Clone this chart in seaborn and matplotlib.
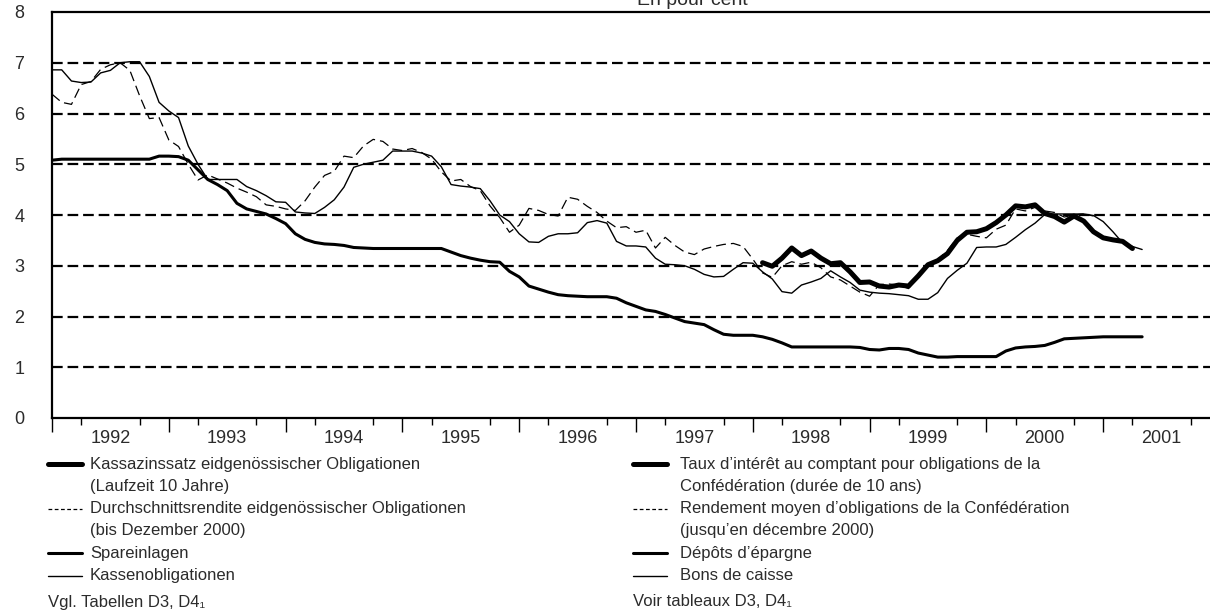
import numpy as np
import pandas as pd
import matplotlib
matplotlib.use("Agg")
import matplotlib.pyplot as plt
from matplotlib.lines import Line2D
import seaborn as sns

# monthly values, January 1992 onwards (in percent)
kassenobligationen = [6.86, 6.86, 6.64, 6.61, 6.62, 6.80, 6.85, 7.00, 7.02, 7.02,
                      6.73, 6.22, 6.05, 5.92, 5.36, 5.00, 4.70, 4.70, 4.70, 4.70,
                      4.56, 4.48, 4.38, 4.26, 4.25, 4.06, 4.04, 4.03, 4.15, 4.30,
                      4.55, 4.94, 5.00, 5.04, 5.08, 5.26, 5.26, 5.26, 5.22, 5.16,
                      4.95, 4.60, 4.57, 4.55, 4.52, 4.28, 4.00, 3.87, 3.63, 3.47,
                      3.46, 3.58, 3.63, 3.63, 3.65, 3.85, 3.89, 3.84, 3.48, 3.39,
                      3.39, 3.37, 3.15, 3.03, 3.02, 3.00, 2.93, 2.83, 2.78, 2.79,
                      2.93, 3.06, 3.05, 2.88, 2.74, 2.49, 2.46, 2.62, 2.68, 2.75,
                      2.90, 2.78, 2.67, 2.52, 2.48, 2.46, 2.45, 2.43, 2.41, 2.34,
                      2.34, 2.47, 2.75, 2.91, 3.05, 3.36, 3.37, 3.37, 3.42, 3.56,
                      3.71, 3.84, 4.01, 4.02, 4.02, 4.02, 4.02, 3.99, 3.87, 3.67,
                      3.45, 3.38, 3.32]

durchschnittsrendite = [6.38, 6.22, 6.18, 6.57, 6.63, 6.87, 6.96, 7.00, 6.85, 6.35,
                        5.90, 5.92, 5.48, 5.35, 5.00, 4.69, 4.79, 4.71, 4.63, 4.53,
                        4.45, 4.36, 4.20, 4.17, 4.12, 4.09, 4.28, 4.55, 4.78, 4.86,
                        5.16, 5.13, 5.36, 5.49, 5.45, 5.30, 5.27, 5.31, 5.23, 5.10,
                        4.85, 4.67, 4.70, 4.56, 4.48, 4.18, 3.95, 3.66, 3.80, 4.13,
                        4.09, 4.01, 3.98, 4.35, 4.31, 4.17, 4.05, 3.88, 3.75, 3.77,
                        3.66, 3.70, 3.35, 3.56, 3.40, 3.27, 3.22, 3.33, 3.38, 3.42,
                        3.44, 3.38, 3.13, 2.86, 2.77, 3.00, 3.08, 3.03, 3.07, 2.96,
                        2.78, 2.72, 2.60, 2.48, 2.40, 2.63, 2.64, 2.62, 2.55, 2.80,
                        3.02, 3.12, 3.30, 3.55, 3.62, 3.58, 3.55, 3.72, 3.80, 4.12,
                        4.08, 4.15, 4.08, 4.05, 3.96, 4.00, 4.02, 3.98]

# Kassazinssatz starts February 1998 (month index 73)
kassazins_start = 73
kassazinssatz = [3.06, 2.99, 3.15, 3.35, 3.20, 3.29, 3.15, 3.04, 3.06, 2.88,
                 2.67, 2.68, 2.60, 2.58, 2.62, 2.60, 2.80, 3.02, 3.10, 3.24,
                 3.50, 3.66, 3.67, 3.73, 3.85, 4.00, 4.18, 4.16, 4.20, 4.03,
                 3.97, 3.86, 3.98, 3.88, 3.67, 3.55, 3.51, 3.48, 3.34]

spareinlagen = [5.08, 5.10, 5.10, 5.10, 5.10, 5.10, 5.10, 5.10, 5.10, 5.10,
                5.10, 5.16, 5.16, 5.15, 5.08, 4.89, 4.70, 4.60, 4.48, 4.23,
                4.12, 4.07, 4.02, 3.93, 3.83, 3.63, 3.52, 3.46, 3.43, 3.42,
                3.40, 3.36, 3.35, 3.34, 3.34, 3.34, 3.34, 3.34, 3.34, 3.34,
                3.34, 3.27, 3.20, 3.15, 3.11, 3.08, 3.07, 2.89, 2.78, 2.60,
                2.54, 2.48, 2.43, 2.41, 2.40, 2.39, 2.39, 2.39, 2.36, 2.27,
                2.20, 2.13, 2.10, 2.04, 1.97, 1.90, 1.87, 1.84, 1.74, 1.65,
                1.63, 1.63, 1.63, 1.60, 1.55, 1.48, 1.40, 1.40, 1.40, 1.40,
                1.40, 1.40, 1.40, 1.39, 1.35, 1.34, 1.37, 1.37, 1.35, 1.28,
                1.24, 1.20, 1.20, 1.21, 1.21, 1.21, 1.21, 1.21, 1.32, 1.38,
                1.40, 1.41, 1.43, 1.49, 1.56, 1.57, 1.58, 1.59, 1.60, 1.60,
                1.60, 1.60, 1.60]

years = list(range(1992, 2002))
y_ticks = [0, 1, 2, 3, 4, 5, 6, 7, 8]

legend_de = [["Kassazinssatz eidgenössischer Obligationen", "(Laufzeit 10 Jahre)"],
             ["Durchschnittsrendite eidgenössischer Obligationen", "(bis Dezember 2000)"],
             ["Spareinlagen"],
             ["Kassenobligationen"]]
legend_fr = [["Taux d\u2019intérêt au comptant pour obligations de la",
              "Confédération (durée de 10 ans)"],
             ["Rendement moyen d\u2019obligations de la Confédération",
              "(jusqu\u2019en décembre 2000)"],
             ["Dépôts d\u2019épargne"],
             ["Bons de caisse"]]
source_de = "Vgl. Tabellen D3, D4\u2081"
source_fr = "Voir tableaux D3, D4\u2081"


def month_x(n, start=0):
    return [1992 + (start + i) / 12 for i in range(n)]


sns.set_theme(style="white")
plt.rcParams["font.family"] = ["Liberation Sans", "DejaVu Sans"]
txt_col = "#2b2b2b"

fig = plt.figure(figsize=(12.10, 6.15), dpi=100)
W, H = 1210, 615
ax = fig.add_axes([52 / W, 1 - 418 / H, (W - 52) / W, 406 / H])

# dashed gridlines
for v in range(1, 8):
    ax.axhline(v, color="black", lw=1.6, ls=(0, (4.8, 2.2)), zorder=1)

# series
styles = [
    (month_x(len(kassenobligationen)), kassenobligationen, 1.0, "-"),
    (month_x(len(durchschnittsrendite)), durchschnittsrendite, 0.9, (0, (8, 4))),
    (month_x(len(spareinlagen)), spareinlagen, 2.2, "-"),
    (month_x(len(kassazinssatz), kassazins_start), kassazinssatz, 3.6, "-"),
]
for xs, ys, lw, ls in styles:
    sns.lineplot(x=xs, y=ys, ax=ax, color="black", linewidth=lw, linestyle=ls,
                 zorder=3, solid_joinstyle="round")

ax.set_yticks(y_ticks)
ax.set_yticklabels([str(t) for t in y_ticks], fontsize=13, color=txt_col)
ax.tick_params(axis="y", length=0, pad=20)

ax.set_xticks(years)
ax.set_xticklabels([])
ax.set_xticks([y + q for y in years for q in (0.25, 0.75)], minor=True)
ax.tick_params(axis="x", which="major", direction="out", length=10, width=1.0,
               color="black", bottom=True)
ax.tick_params(axis="x", which="minor", direction="out", length=5, width=1.0,
               color="black", bottom=True)
ax.set_xlim(1992, 1992 + (W - 52) / 116.8)
ax.set_ylim(0, 8)
for y in years:
    ax.text(y + 0.5, -0.24, str(y), transform=ax.transData, ha="center", va="top",
            fontsize=13, color=txt_col, clip_on=False)

for side in ["left", "top", "bottom"]:
    ax.spines[side].set_color("black")
    ax.spines[side].set_linewidth(1.6)
ax.spines["right"].set_visible(False)
ax.grid(False)
ax.set_xlabel("")
ax.set_ylabel("")

fig.text(637 / W, 1 - 5 / H, "En pour cent", ha="left", va="baseline",
         fontsize=14, color=txt_col)

# legend, drawn by hand in two columns
handle_styles = [(3.6, "-"), (0.9, (0, (3, 2))), (2.2, "-"), (1.0, "-")]
row_h = 22.3
y0 = 464
for hx0, tx, labels, src in [(48, 90, legend_de, source_de),
                             (633, 680, legend_fr, source_fr)]:
    r = 0
    for (lw, ls), lines in zip(handle_styles, labels):
        yy = y0 + r * row_h
        fig.add_artist(Line2D([hx0 / W, (hx0 + 34) / W], [1 - yy / H, 1 - yy / H],
                              color="black", lw=lw, ls=ls))
        for line in lines:
            yy = y0 + r * row_h
            fig.text(tx / W, 1 - yy / H, line, ha="left", va="center",
                     fontsize=12, color=txt_col)
            r += 1
    fig.text(hx0 / W, 1 - 602 / H, src, ha="left", va="center", fontsize=12,
             color=txt_col)

fig.savefig("out.png", dpi=100)
